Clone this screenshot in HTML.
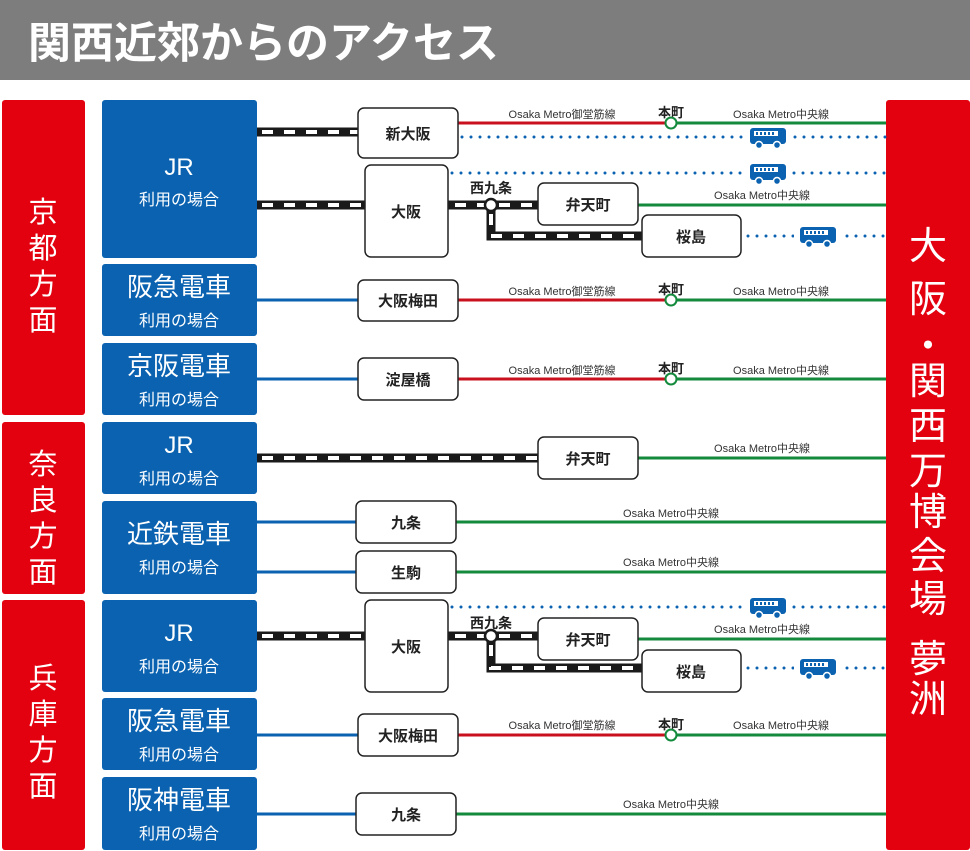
<!DOCTYPE html>
<html><head><meta charset="utf-8"><style>
html,body{margin:0;padding:0;background:#fff;}
svg{display:block;font-family:"Liberation Sans","Noto Sans CJK JP",sans-serif;}
</style></head><body>
<svg width="970" height="851" viewBox="0 0 970 851" xmlns="http://www.w3.org/2000/svg">
<defs>
<g id="bus">
<rect x="-18" y="-9" width="36" height="16" rx="3" fill="#0a62b0"/>
<rect x="-14" y="-6" width="24" height="5" fill="#fff"/>
<rect x="-12" y="-5" width="2" height="3" fill="#0a62b0"/><rect x="-8" y="-5" width="2" height="3" fill="#0a62b0"/>
<rect x="-4" y="-5" width="2" height="3" fill="#0a62b0"/><rect x="0" y="-5" width="2" height="3" fill="#0a62b0"/>
<rect x="4" y="-5" width="2" height="3" fill="#0a62b0"/>
<circle cx="-9" cy="8" r="3.5" fill="#0a62b0" stroke="#fff" stroke-width="1.5"/>
<circle cx="9" cy="8" r="3.5" fill="#0a62b0" stroke="#fff" stroke-width="1.5"/>
</g>
</defs>
<rect x="0" y="0" width="970" height="80" fill="#7d7d7d"/>
<text x="28" y="58" font-size="43" font-weight="bold" fill="#fff">関西近郊からのアクセス</text>

<g fill="#e3000f">
<rect x="2" y="100" width="83" height="315" rx="3"/>
<rect x="2" y="422" width="83" height="172" rx="3"/>
<rect x="2" y="600" width="83" height="250" rx="3"/>
<rect x="886" y="100" width="84" height="750" rx="3"/>
</g>
<g fill="#fff" font-size="29" text-anchor="middle">
<text x="43" y="222">京</text><text x="43" y="258">都</text><text x="43" y="294">方</text><text x="43" y="330">面</text>
<text x="43" y="474">奈</text><text x="43" y="510">良</text><text x="43" y="546">方</text><text x="43" y="582">面</text>
<text x="43" y="688">兵</text><text x="43" y="724">庫</text><text x="43" y="760">方</text><text x="43" y="796">面</text>
</g>
<g fill="#fff" font-size="38" text-anchor="middle">
<text x="928" y="259">大</text><text x="928" y="312">阪</text><text x="928" y="359">・</text>
<text x="928" y="394">関</text><text x="928" y="439">西</text><text x="928" y="484">万</text><text x="928" y="525">博</text>
<text x="928" y="569">会</text><text x="928" y="612">場</text><text x="928" y="672">夢</text><text x="928" y="712">洲</text>
</g>

<g fill="#0a62b0">
<rect x="102" y="100" width="155" height="158" rx="3"/>
<rect x="102" y="264" width="155" height="72" rx="3"/>
<rect x="102" y="343" width="155" height="72" rx="3"/>
<rect x="102" y="422" width="155" height="72" rx="3"/>
<rect x="102" y="501" width="155" height="93" rx="3"/>
<rect x="102" y="600" width="155" height="92" rx="3"/>
<rect x="102" y="698" width="155" height="72" rx="3"/>
<rect x="102" y="777" width="155" height="73" rx="3"/>
</g>
<g fill="#fff" text-anchor="middle">
<text x="179" y="175" font-size="24">JR</text><text x="179" y="205" font-size="16">利用の場合</text>
<text x="179" y="296" font-size="26">阪急電車</text><text x="179" y="326" font-size="16">利用の場合</text>
<text x="179" y="375" font-size="26">京阪電車</text><text x="179" y="405" font-size="16">利用の場合</text>
<text x="179" y="453" font-size="24">JR</text><text x="179" y="484" font-size="16">利用の場合</text>
<text x="179" y="543" font-size="26">近鉄電車</text><text x="179" y="573" font-size="16">利用の場合</text>
<text x="179" y="641" font-size="24">JR</text><text x="179" y="672" font-size="16">利用の場合</text>
<text x="179" y="730" font-size="26">阪急電車</text><text x="179" y="760" font-size="16">利用の場合</text>
<text x="179" y="809" font-size="26">阪神電車</text><text x="179" y="839" font-size="16">利用の場合</text>
</g>

<g stroke="#0a62b0" stroke-width="3">
<line x1="257" y1="300" x2="358" y2="300"/><line x1="257" y1="379" x2="358" y2="379"/>
<line x1="257" y1="522" x2="356" y2="522"/><line x1="257" y1="572" x2="356" y2="572"/>
<line x1="257" y1="735" x2="358" y2="735"/><line x1="257" y1="814" x2="356" y2="814"/>
</g>
<g stroke="#c8101e" stroke-width="3">
<line x1="458" y1="123" x2="671" y2="123"/><line x1="458" y1="300" x2="671" y2="300"/>
<line x1="458" y1="379" x2="671" y2="379"/><line x1="458" y1="735" x2="671" y2="735"/>
</g>
<g stroke="#138a3c" stroke-width="3">
<line x1="671" y1="123" x2="886" y2="123"/><line x1="638" y1="205" x2="886" y2="205"/>
<line x1="671" y1="300" x2="886" y2="300"/><line x1="671" y1="379" x2="886" y2="379"/>
<line x1="638" y1="458" x2="886" y2="458"/><line x1="456" y1="522" x2="886" y2="522"/>
<line x1="456" y1="572" x2="886" y2="572"/><line x1="638" y1="639" x2="886" y2="639"/>
<line x1="671" y1="735" x2="886" y2="735"/><line x1="456" y1="814" x2="886" y2="814"/>
</g>
<g stroke="#0a62b0" stroke-width="3" stroke-linecap="round" stroke-dasharray="0 9">
<line x1="462" y1="137" x2="886" y2="137"/><line x1="452" y1="173" x2="886" y2="173"/>
<line x1="748" y1="236" x2="886" y2="236"/><line x1="452" y1="607" x2="886" y2="607"/>
<line x1="748" y1="668" x2="886" y2="668"/>
</g>
<g fill="#fff">
<rect x="744" y="126" width="48" height="22"/><rect x="744" y="162" width="48" height="22"/>
<rect x="794" y="225" width="48" height="22"/><rect x="744" y="596" width="48" height="22"/>
<rect x="794" y="657" width="48" height="22"/>
</g>
<use href="#bus" x="768" y="137"/><use href="#bus" x="768" y="173"/><use href="#bus" x="818" y="236"/>
<use href="#bus" x="768" y="607"/><use href="#bus" x="818" y="668"/>

<g fill="none" stroke="#1a1a1a" stroke-width="9">
<path d="M257 132H358"/><path d="M257 205H365"/><path d="M448 205H538"/><path d="M491 205V236H642"/>
<path d="M257 458H538"/><path d="M257 636H365"/><path d="M448 636H538"/><path d="M491 636V668H642"/>
</g>
<g fill="none" stroke="#fff" stroke-width="4" stroke-dasharray="11 11">
<path d="M262 132H358"/><path d="M262 205H365"/><path d="M455 205H538"/><path d="M491 214V236H642"/>
<path d="M262 458H538"/><path d="M262 636H365"/><path d="M455 636H538"/><path d="M491 645V668H642"/>
</g>
<circle cx="491" cy="205" r="6" fill="#fff" stroke="#1a1a1a" stroke-width="2.5"/>
<circle cx="491" cy="636" r="6" fill="#fff" stroke="#1a1a1a" stroke-width="2.5"/>
<circle cx="671" cy="123" r="5.5" fill="#fff" stroke="#138a3c" stroke-width="2"/>
<circle cx="671" cy="300" r="5.5" fill="#fff" stroke="#138a3c" stroke-width="2"/>
<circle cx="671" cy="379" r="5.5" fill="#fff" stroke="#138a3c" stroke-width="2"/>
<circle cx="671" cy="735" r="5.5" fill="#fff" stroke="#138a3c" stroke-width="2"/>

<g fill="#fff" stroke="#222" stroke-width="1.5">
<rect x="358" y="108" width="100" height="50" rx="6"/>
<rect x="365" y="165" width="83" height="92" rx="6"/>
<rect x="538" y="183" width="100" height="42" rx="6"/>
<rect x="642" y="215" width="99" height="42" rx="6"/>
<rect x="358" y="280" width="100" height="41" rx="6"/>
<rect x="358" y="358" width="100" height="42" rx="6"/>
<rect x="538" y="437" width="100" height="42" rx="6"/>
<rect x="356" y="501" width="100" height="42" rx="6"/>
<rect x="356" y="551" width="100" height="42" rx="6"/>
<rect x="365" y="600" width="83" height="92" rx="6"/>
<rect x="538" y="618" width="100" height="42" rx="6"/>
<rect x="642" y="650" width="99" height="42" rx="6"/>
<rect x="358" y="714" width="100" height="42" rx="6"/>
<rect x="356" y="793" width="100" height="42" rx="6"/>
</g>
<g fill="#222" font-size="15" font-weight="bold" text-anchor="middle">
<text x="408" y="139">新大阪</text><text x="406" y="217">大阪</text><text x="588" y="210">弁天町</text>
<text x="691" y="242">桜島</text><text x="408" y="306">大阪梅田</text><text x="408" y="385">淀屋橋</text>
<text x="588" y="464">弁天町</text><text x="406" y="528">九条</text><text x="406" y="578">生駒</text>
<text x="406" y="652">大阪</text><text x="588" y="645">弁天町</text><text x="691" y="677">桜島</text>
<text x="408" y="741">大阪梅田</text><text x="406" y="820">九条</text>
<text x="491" y="193" font-size="14">西九条</text><text x="491" y="628" font-size="14">西九条</text>
<text x="671" y="117" font-size="13">本町</text><text x="671" y="294" font-size="13">本町</text>
<text x="671" y="373" font-size="13">本町</text><text x="671" y="729" font-size="13">本町</text>
</g>
<g fill="#333" font-size="11" text-anchor="middle">
<text x="562" y="118">Osaka Metro御堂筋線</text><text x="781" y="118">Osaka Metro中央線</text>
<text x="762" y="199">Osaka Metro中央線</text>
<text x="562" y="295">Osaka Metro御堂筋線</text><text x="781" y="295">Osaka Metro中央線</text>
<text x="562" y="374">Osaka Metro御堂筋線</text><text x="781" y="374">Osaka Metro中央線</text>
<text x="762" y="452">Osaka Metro中央線</text>
<text x="671" y="517">Osaka Metro中央線</text><text x="671" y="566">Osaka Metro中央線</text>
<text x="762" y="633">Osaka Metro中央線</text>
<text x="562" y="729">Osaka Metro御堂筋線</text><text x="781" y="729">Osaka Metro中央線</text>
<text x="671" y="808">Osaka Metro中央線</text>
</g>
</svg>
</body></html>
